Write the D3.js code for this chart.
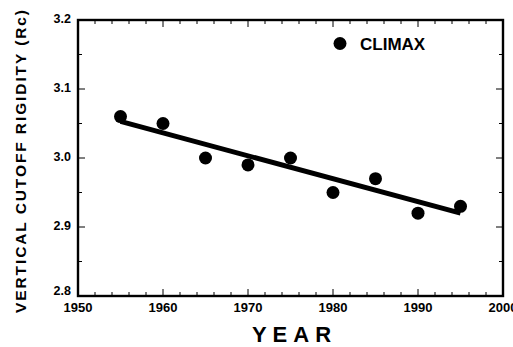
<!DOCTYPE html>
<html><head><meta charset="utf-8">
<script src="https://cdn.jsdelivr.net/npm/d3@7"></script>
<style>body{margin:0;background:#fff}svg{display:block}</style>
</head><body>
<svg id="c" width="513" height="347"></svg>
<script>
const years = [1955,1960,1965,1970,1975,1980,1985,1990,1995];
const rigidity = [3.06,3.05,3.00,2.99,3.00,2.95,2.97,2.92,2.93];
const fitYears = [1955,1995];
const fitValues = [3.053,2.920];
const xTicks = [1950,1960,1970,1980,1990,2000];
const yTicks = [2.8,2.9,3.0,3.1,3.2];
const seriesName = "CLIMAX";

const svg = d3.select("#c");
const L=78,R=503,T=20,B=296;
const x = d3.scaleLinear().domain([1950,2000]).range([L,R]);
const y = d3.scaleLinear().domain([2.8,3.2]).range([B,T]);
const font = "'Liberation Sans', Arial, sans-serif";

// minor and major ticks, inward on all sides
const g = svg.append("g").attr("stroke","#000");
const xMinor = d3.range(1950,2001,2);
const yMinor = d3.range(0,9).map(i=>2.8+i*0.05);
xMinor.forEach(v=>{
  const major = xTicks.some(t=>Math.abs(t-v)<1e-6);
  const len = major?7:4;
  g.append("line").attr("x1",x(v)).attr("x2",x(v)).attr("y1",B).attr("y2",B-len).attr("stroke-width",1);
  g.append("line").attr("x1",x(v)).attr("x2",x(v)).attr("y1",T).attr("y2",T+len).attr("stroke-width",1);
});
yMinor.forEach(v=>{
  const major = yTicks.some(t=>Math.abs(t-v)<1e-6);
  const len = major?7:4;
  g.append("line").attr("y1",y(v)).attr("y2",y(v)).attr("x1",L).attr("x2",L+len).attr("stroke-width",1);
  g.append("line").attr("y1",y(v)).attr("y2",y(v)).attr("x1",R).attr("x2",R-len).attr("stroke-width",1);
});
svg.append("rect").attr("x",L).attr("y",T).attr("width",R-L).attr("height",B-T)
  .attr("fill","none").attr("stroke","#000").attr("stroke-width",2.4);

// tick labels
svg.selectAll(".xl").data(xTicks).join("text")
  .attr("x",d=>x(d)).attr("y",B+16).attr("text-anchor","middle")
  .attr("font-family",font).attr("font-weight","bold").attr("font-size",13).text(d=>d);
svg.selectAll(".yl").data(yTicks).join("text")
  .attr("x",L-7).attr("y",d=>y(d)+(d===2.8?-1:3)).attr("text-anchor","end")
  .attr("font-family",font).attr("font-weight","bold").attr("font-size",12.5).text(d=>d.toFixed(1));

// axis titles
svg.append("text").attr("x",294.5).attr("y",342).attr("text-anchor","middle")
  .attr("font-family",font).attr("font-weight","bold").attr("font-size",22)
  .attr("letter-spacing",6).text("YEAR");
svg.append("text").attr("transform","translate(26,161.5) rotate(-90)").attr("text-anchor","middle")
  .attr("font-family",font).attr("font-weight","bold").attr("font-size",15.5)
  .attr("textLength",303).attr("lengthAdjust","spacing")
  .text("VERTICAL CUTOFF RIGIDITY (Rc)");

// fit line
svg.append("line").attr("x1",x(fitYears[0])).attr("y1",y(fitValues[0]))
  .attr("x2",x(fitYears[1])).attr("y2",y(fitValues[1]))
  .attr("stroke","#000").attr("stroke-width",5);

// points
svg.selectAll(".pt").data(years).join("circle")
  .attr("cx",d=>x(d)).attr("cy",(d,i)=>y(rigidity[i])).attr("r",6.5).attr("fill","#000");

// legend
svg.append("circle").attr("cx",340).attr("cy",43.5).attr("r",6.5).attr("fill","#000");
svg.append("text").attr("x",360).attr("y",49.5).attr("font-family",font).attr("font-weight","bold")
  .attr("font-size",17).text(seriesName);
</script>
</body></html>
